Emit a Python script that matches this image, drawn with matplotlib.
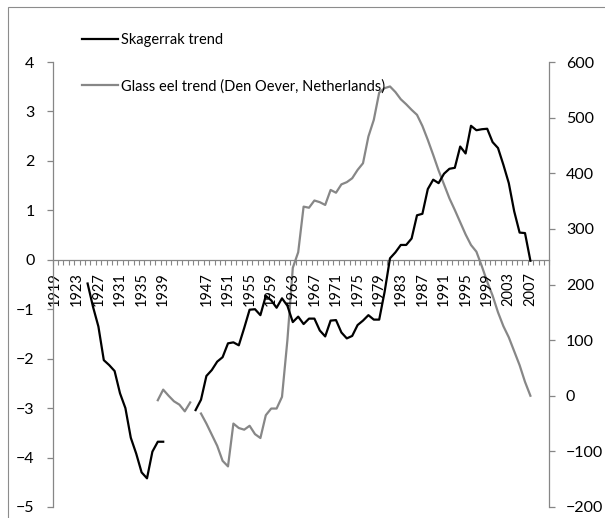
import numpy as np
import matplotlib
import matplotlib.pyplot as plt
from matplotlib.patches import Rectangle

matplotlib.use('Agg')
plt.rcParams['font.family'] = ['Liberation Sans Narrow', 'Lato', 'DejaVu Sans']

nan = np.nan

# category axis (one slot per year)
first_year, last_year = 1919, 2010
tick_years = [1919, 1923, 1927, 1931, 1935, 1939, 1947, 1951, 1955, 1959, 1963,
              1967, 1971, 1975, 1979, 1983, 1987, 1991, 1995, 1999, 2003, 2007]

# Skagerrak trend (left axis), 1925-2007
skag_years = list(range(1925, 2008))
skag_vals = [-0.48, -0.95, -1.35, -2.03, -2.13, -2.25, -2.70, -3.00, -3.60, -3.92,
             -4.30, -4.42, -3.88, -3.68, -3.68,
             nan, nan, nan, nan, nan,
             -3.04, -2.83, -2.35, -2.23, -2.06, -1.97, -1.69, -1.67, -1.73, -1.38,
             -1.01, -1.00, -1.12, -0.73, -0.82, -0.97, -0.78, -0.93, -1.26, -1.15,
             -1.30, -1.19, -1.19, -1.43, -1.55, -1.23, -1.22, -1.47, -1.59, -1.54,
             -1.32, -1.23, -1.12, -1.21, -1.21, -0.65,
             0.03, 0.15, 0.30, 0.30, 0.43, 0.90, 0.93, 1.43, 1.62, 1.55,
             1.74, 1.84, 1.86, 2.29, 2.15, 2.71, 2.62, 2.64, 2.65, 2.38,
             2.26, 1.92, 1.55, 0.98, 0.55, 0.54, -0.02]

# Glass eel trend, Den Oever (right axis), 1938-2007
eel_years = list(range(1938, 2008))
eel_vals = [-8, 11, 0, -10, -16, -28, -12,
            nan,
            -32, -50, -70, -90, -117, -127, -50, -58, -61, -54,
            -69, -76, -35, -23, -23, -2, 100, 230, 258, 340,
            338, 351, 348, 343, 370, 365, 380, 384, 391, 406,
            418, 466, 496, 545, 553, 556, 546, 533, 524, 514,
            505, 485, 460, 433, 405, 380, 355, 334, 312, 290,
            271, 259, 233, 205, 180, 150, 125, 105, 80, 55,
            25, 0]

W, H = 605, 518
fig = plt.figure(figsize=(W / 100, H / 100), dpi=100)
fig.patch.set_facecolor('white')

# outer chart border (only top/left visible in the crop)
fig.patches.append(Rectangle((8 / W, -0.05), 1.1, 1 - 7 / H + 0.05,
                             transform=fig.transFigure, fill=False,
                             edgecolor='#8c8c8c', linewidth=0.8))

left, right, top, bottom = 52.5, 549.3, 62, 507
ax = fig.add_axes([left / W, 1 - bottom / H, (right - left) / W, (bottom - top) / H])
ax2 = ax.twinx()

# category axis crosses at zero (set before tick styling, it resets ticks)
ax.spines['bottom'].set_position(('data', 0))

axis_gray = '#868686'
black_col = '#000000'
gray_col = '#878787'

l1, = ax.plot(skag_years, skag_vals, color=black_col, lw=1.6,
              solid_joinstyle='round', label='Skagerrak trend', zorder=3)
l2, = ax2.plot(eel_years, eel_vals, color=gray_col, lw=1.6,
               solid_joinstyle='round', label='Glass eel trend (Den Oever, Netherlands)')

ax.set_zorder(ax2.get_zorder() + 1)
ax.patch.set_visible(False)

ax.set_xlim(first_year - 0.5, last_year + 0.5)
ax.set_ylim(-5, 4)
ax2.set_ylim(-200, 600)
ax.set_yticks(range(-5, 5))
ax2.set_yticks(range(-200, 601, 100))

ax.set_xticks(tick_years)
ax.set_xticklabels([str(y) for y in tick_years])
ax.set_xticks(np.arange(first_year - 0.5, last_year + 1), minor=True)
ax.tick_params(axis='x', which='major', length=0, pad=9, labelsize=10.5,
               labelrotation=90)
ax.tick_params(axis='x', which='minor', length=3.5, direction='out',
               color=axis_gray, width=0.8)

for s in ['top', 'right']:
    ax.spines[s].set_visible(False)
for s in ['top', 'left', 'bottom']:
    ax2.spines[s].set_visible(False)
for sp in [ax.spines['left'], ax.spines['bottom'], ax2.spines['right']]:
    sp.set_color(axis_gray)
    sp.set_linewidth(0.9)

ax.tick_params(axis='y', length=4, color=axis_gray, width=0.9, pad=9, labelsize=11.5)
ax2.tick_params(axis='y', length=4, color=axis_gray, width=0.9, pad=8, labelsize=11.5)

fig.legend([l1, l2], [l1.get_label(), l2.get_label()],
           loc='upper left', bbox_to_anchor=(82 / W, 1 - 33 / H),
           frameon=False, fontsize=10.5, handlelength=2.5, handletextpad=0.2,
           labelspacing=2.2, borderpad=0, borderaxespad=0)

fig.savefig('out.png', dpi=100, facecolor='white')
